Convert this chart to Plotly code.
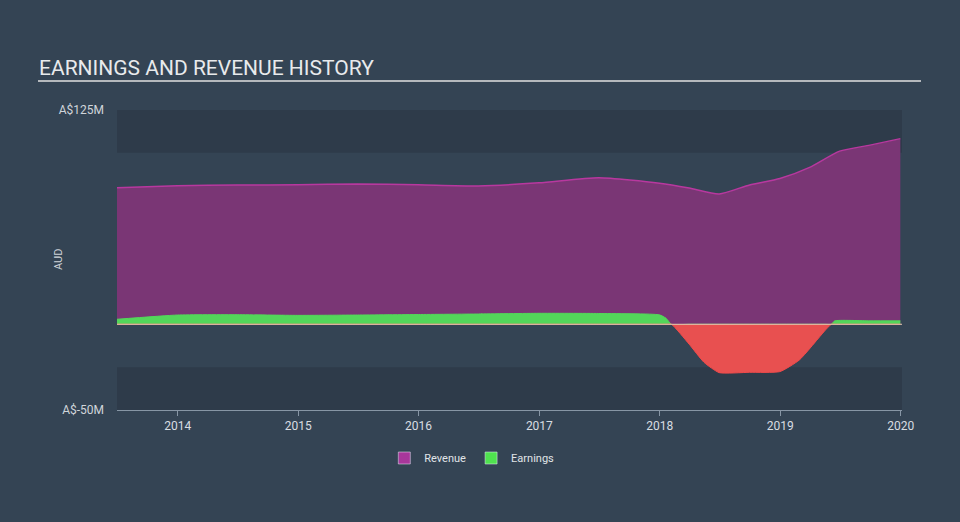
import plotly.graph_objects as go
import pandas as pd

# ---- data (A$ millions) ----
rev_dates = ["2013-06-30", "2013-12-31", "2014-06-30", "2014-12-31", "2015-06-30",
             "2015-12-31", "2016-06-30", "2016-12-31", "2017-06-30", "2017-12-31",
             "2018-03-31", "2018-06-30", "2018-09-30", "2018-12-31", "2019-03-31",
             "2019-06-30", "2019-09-30", "2019-12-31"]
revenue = [79.7, 80.8, 81.2, 81.4, 81.9, 81.4, 80.7, 82.5, 85.5, 82.3,
           79.5, 76.0, 81.3, 85.0, 91.5, 101.0, 104.5, 108.3]

earn_dates = ["2013-06-30", "2013-12-31", "2014-06-30", "2014-12-31", "2015-06-30",
              "2015-12-31", "2016-06-30", "2016-12-31", "2017-06-30", "2017-12-31",
              "2018-01-20", "2018-03-31", "2018-05-15", "2018-06-30", "2018-09-30",
              "2018-12-31", "2019-02-28", "2019-05-15", "2019-06-15", "2019-09-30",
              "2019-12-31"]
earnings = [2.9, 5.4, 5.6, 5.2, 5.4, 5.7, 6.0, 6.4, 6.3, 5.5,
            3.5, -11.6, -22.2, -28.2, -28.0, -27.6, -20.8, -4.0, 2.0, 2.0, 2.0]

year_ticks = ["2014", "2015", "2016", "2017", "2018", "2019", "2020"]
y_tick_vals = [125, -50]
y_tick_text = ["A$125M", "A$-50M"]

# ---- split earnings into positive / negative parts at zero crossings ----
ed = pd.to_datetime(pd.Series(earn_dates))
xs, ys = [], []
for i in range(len(earnings)):
    if i > 0 and (earnings[i - 1] > 0) != (earnings[i] > 0) and earnings[i - 1] != 0 and earnings[i] != 0:
        t0, t1 = ed[i - 1].value, ed[i].value
        v0, v1 = earnings[i - 1], earnings[i]
        tc = t0 + (t1 - t0) * (v0 / (v0 - v1))
        xs.append(pd.Timestamp(int(tc)))
        ys.append(0.0)
    xs.append(ed[i])
    ys.append(earnings[i])
pos = [max(v, 0) for v in ys]
neg = [min(v, 0) for v in ys]

BG = "#344454"
BAND = "#2e3b4a"

fig = go.Figure()
fig.add_trace(go.Scatter(x=pd.to_datetime(rev_dates), y=revenue, mode="lines",
                         line=dict(color="#b8389f", width=1.5, shape="spline", smoothing=0.6),
                         fill="tozeroy", fillcolor="#7a3675", showlegend=False, hoverinfo="skip"))
fig.add_trace(go.Scatter(x=xs, y=pos, mode="lines",
                         line=dict(color="#53d65a", width=1, shape="spline", smoothing=0.5),
                         fill="tozeroy", fillcolor="#53d65a", showlegend=False, hoverinfo="skip"))
fig.add_trace(go.Scatter(x=xs, y=neg, mode="lines",
                         line=dict(color="#f24a4a", width=1, shape="spline", smoothing=0.5),
                         fill="tozeroy", fillcolor="#e85050", showlegend=False, hoverinfo="skip"))
# legend entries
fig.add_trace(go.Bar(x=[None], y=[None], name="Revenue", marker_color="#a8379b"))
fig.add_trace(go.Bar(x=[None], y=[None], name="Earnings", marker_color="#4fe24f"))

shapes = [
    dict(type="rect", xref="paper", yref="y", x0=0, x1=1, y0=100, y1=125,
         fillcolor=BAND, line_width=0, layer="below"),
    dict(type="rect", xref="paper", yref="y", x0=0, x1=1, y0=-50, y1=-25,
         fillcolor=BAND, line_width=0, layer="below"),
    dict(type="line", xref="paper", yref="y", x0=0, x1=1, y0=0, y1=0,
         line=dict(color="#e6c8b4", width=1), layer="above"),
    dict(type="line", xref="paper", yref="paper", x0=(38 - 117) / 785, x1=(921 - 117) / 785,
         y0=(410 - 81) / 300, y1=(410 - 81) / 300, line=dict(color="#b5b9bd", width=2)),
]

annotations = [
    dict(text="EARNINGS AND REVENUE HISTORY", xref="paper", yref="paper",
         x=(37 - 117) / 785, y=(410 - 68) / 300, xanchor="left", yanchor="middle",
         showarrow=False, font=dict(family="Roboto", size=21, color="#e8eaec")),
    dict(text="AUD", xref="paper", yref="paper", x=(58 - 117) / 785, y=0.5,
         textangle=-90, showarrow=False, xanchor="center", yanchor="middle",
         font=dict(family="Roboto", size=11, color="#d0d5da")),
]

fig.update_layout(
    width=960, height=522,
    margin=dict(l=117, r=58, t=110, b=112),
    paper_bgcolor=BG, plot_bgcolor=BG,
    font=dict(family="Roboto", color="#d0d5da", size=12),
    shapes=shapes, annotations=annotations,
    showlegend=True,
    legend=dict(orientation="h", x=0.452, xanchor="center", y=-0.16, yanchor="middle",
                font=dict(family="Roboto", size=11, color="#e0e4e8"), bgcolor="rgba(0,0,0,0)"),
    xaxis=dict(type="date", range=["2013-07-01", "2020-01-05"],
               tickvals=pd.to_datetime([y + "-01-01" for y in year_ticks]), ticktext=year_ticks,
               showgrid=False, zeroline=False, showline=True, linecolor="#8796a5", linewidth=1,
               ticks="outside", ticklen=5, tickcolor="#8796a5",
               tickfont=dict(family="Roboto", size=12, color="#d8dde2")),
    yaxis=dict(range=[-50, 125], tickvals=y_tick_vals, ticktext=y_tick_text,
               showgrid=False, zeroline=False, showline=False, ticks="",
               ticklabelstandoff=12,
               tickfont=dict(family="Roboto", size=12, color="#d0d5da")),
)

fig.write_html("out.html")
